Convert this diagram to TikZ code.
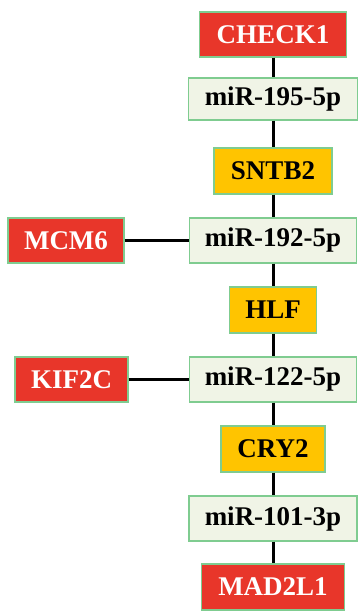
\documentclass[tikz,border=0pt]{standalone}
\usepackage{fontspec}
\setmainfont{Liberation Serif}
\definecolor{genered}{HTML}{E8362A}
\definecolor{tfyellow}{HTML}{FFC400}
\definecolor{mirfill}{HTML}{F0F4E6}
\definecolor{boxedge}{HTML}{7FCC90}
\begin{document}
\begin{tikzpicture}[x=1pt,y=-1pt,
  basebox/.style={draw=boxedge, line width=1.2pt, inner sep=0pt, font=\fontsize{27}{30}\selectfont\bfseries},
  gene/.style={basebox, fill=genered, text=white},
  tf/.style={basebox, fill=tfyellow, text=black},
  mir/.style={basebox, fill=mirfill, text=black},
  link/.style={line width=3pt, black}]
\useasboundingbox (0,0) rectangle (358,611);
% vertical chain, centre x = 273
\node[gene, minimum width=147pt, minimum height=45pt] (check1) at (273,34.5) {CHECK1};
\node[mir, minimum width=169pt, minimum height=42pt] (m195) at (273,99) {miR-195-5p};
\node[tf, minimum width=118pt, minimum height=46pt] (sntb2) at (273,171) {SNTB2};
\node[mir, minimum width=167pt, minimum height=45pt] (m192) at (273,240.5) {miR-192-5p};
\node[tf, minimum width=87pt, minimum height=46pt] (hlf) at (273,310) {HLF};
\node[mir, minimum width=167pt, minimum height=45pt] (m122) at (273,379.5) {miR-122-5p};
\node[tf, minimum width=104pt, minimum height=46pt] (cry2) at (273,449) {CRY2};
\node[mir, minimum width=168pt, minimum height=45pt] (m101) at (273,518.5) {miR-101-3p};
\node[gene, minimum width=143pt, minimum height=46pt] (mad2l1) at (273,587) {MAD2L1};
% side genes
\node[gene, minimum width=116pt, minimum height=45pt] (mcm6) at (66,240.5) {MCM6};
\node[gene, minimum width=113pt, minimum height=45pt] (kif2c) at (71.5,379.5) {KIF2C};
% connectors
\begin{scope}[on background layer/.try]
\end{scope}
\draw[link] (check1.south) -- (m195.north);
\draw[link] (m195.south) -- (sntb2.north);
\draw[link] (sntb2.south) -- (m192.north);
\draw[link] (m192.south) -- (hlf.north);
\draw[link] (hlf.south) -- (m122.north);
\draw[link] (m122.south) -- (cry2.north);
\draw[link] (cry2.south) -- (m101.north);
\draw[link] (m101.south) -- (mad2l1.north);
\draw[link] (mcm6.east) -- (m192.west);
\draw[link] (kif2c.east) -- (m122.west);
\end{tikzpicture}
\end{document}
